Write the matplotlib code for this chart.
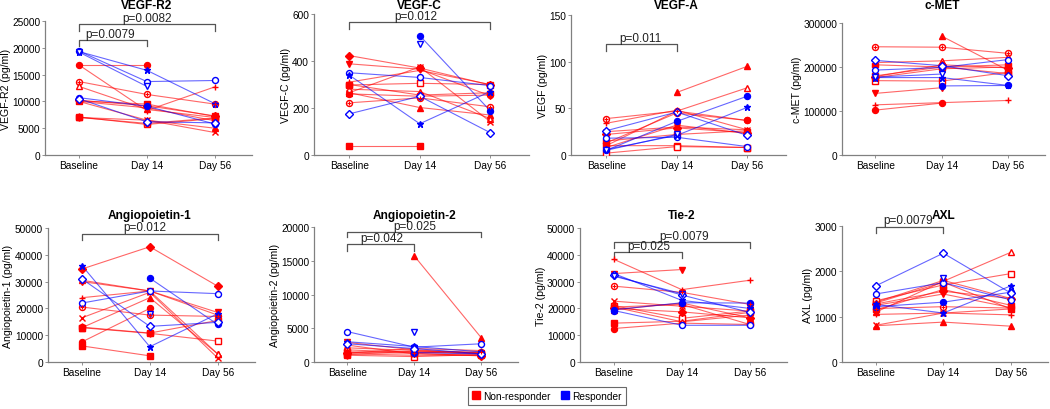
import numpy as np
import matplotlib
matplotlib.use('Agg')
import matplotlib.pyplot as plt
import matplotlib.transforms as mtransforms
from matplotlib.lines import Line2D

plt.rcParams['font.family'] = ['Liberation Sans', 'DejaVu Sans']

nan = np.nan
timepoints = ['Baseline', 'Day 14', 'Day 56']

# patient styles: group (R = responder), marker, filled
groups = ['N'] * 11 + ['R'] * 5
markers = ['o', 'o', 's', 's', '^', '^', 'v', '+', 'x', 'D', 'h',
           'o', 'o', '*', 'D', 'v']
filled = [False, True, True, False, True, False, True, True, True, True, True,
          False, True, True, False, False]

# values per panel, one row per patient: Baseline, Day 14, Day 56
vegfr2 = [[13700, 11300, 9500], [16800, 16800, nan], [10100, 9500, 7200],
          [7100, 5700, 6800], [7000, 6500, 5000], [12800, 8500, 7000],
          [10000, 8800, 6400], [16800, 8300, 12700], [10000, 6500, 4200],
          [10200, 9200, 7300], [7000, 5900, 6900], [19400, 13700, 13900],
          [10700, 9100, 5800], [19300, 15800, 9600], [10500, 6200, 6000],
          [19200, 12800, nan]]
vegfc = [[222, 243, 205], [260, 250, 255], [40, 40, nan], [298, 305, 300],
         [265, 202, 170], [280, 270, 155], [388, 365, 252], [310, 360, 300],
         [265, 375, 142], [423, 370, 298], [300, 255, 265], [350, 330, 295],
         [nan, 508, 188], [340, 133, 270], [175, 250, 95], [nan, 472, nan]]
vegfa = [[39, 47, 37], [13, 45, 37], [10, 10, 8], [2, 9, 8], [nan, 67, 95],
         [10, 47, 72], [8, 32, 23], [34, 48, 27], [25, 30, 27], [22, 29, 24],
         [15, 22, 26], [18, 19, 9], [5, 36, 63], [6, 21, 51], [26, 46, 21],
         [5, 22, nan]]
cmet = [[246000, 245000, 231000], [102000, 118000, nan],
        [180000, 200000, 185000], [169000, 168000, 188000],
        [nan, 270000, 192000], [210000, 214000, 222000],
        [140000, 153000, nan], [114000, 119000, 124000],
        [176000, 196000, 200000], [178000, 205000, 198000],
        [205000, 200000, 205000], [193000, 199000, 217000],
        [nan, 157000, 158000], [176000, 176000, 158000],
        [215000, 203000, 180000], [177000, 184000, nan]]
ang1 = [[20500, 17500, 17000], [7500, 20000, nan], [6000, 2300, nan],
        [12800, 10700, 7800], [12800, 24000, 3000], [30500, 26500, 3000],
        [30000, 26500, 18500], [24000, 26500, 17500], [16500, 26000, 1500],
        [34700, 43000, 28300], [13000, 10800, 15500], [22000, 26500, 25500],
        [nan, 31300, 14000], [36000, 5700, 18000], [31000, 13300, 14800],
        [nan, 17800, nan]]
ang2 = [[1800, 1400, 1500], [1200, 1000, 1000], [1500, 1500, 1200],
        [1000, 800, 1100], [nan, 15700, 3600], [2100, 1700, 1300],
        [2900, 1800, 1300], [1300, 2000, 1700], [2500, 1200, 1000],
        [1400, 1300, 900], [1100, 1600, 1400], [4500, 2200, 2700],
        [nan, 1400, 1200], [3000, 2300, 1500], [2700, 2000, 1200],
        [nan, 4400, nan]]
tie2 = [[28300, 26000, 21500], [12500, 14500, 14000], [14500, 15200, 18500],
        [21000, 16300, 19000], [19500, 22000, 16500], [20500, 15000, 17500],
        [33000, 34500, nan], [38300, 27000, 30500], [22700, 20800, 19000],
        [20000, 18700, 16500], [20500, 21500, 14000], [19200, 13700, 13700],
        [19500, 22100, 22000], [33000, 23000, 20000], [32300, 25000, 18500],
        [32000, 25500, nan]]
axl = [[1180, 1220, 1190], [1320, 1800, 1400], [1300, 1760, 1170],
       [1350, 1700, 1950], [800, 880, 790], [1100, 1780, 2420],
       [1250, 1500, 1200], [1050, 1080, 1040], [810, 1080, 1170],
       [1280, 1560, 1400], [1150, 1600, 1250], [1500, 1750, 1370],
       [1220, 1320, 1540], [1270, 1080, 1680], [1680, 2400, 1520],
       [nan, 1860, nan]]

titles = ['VEGF-R2', 'VEGF-C', 'VEGF-A', 'c-MET',
          'Angiopoietin-1', 'Angiopoietin-2', 'Tie-2', 'AXL']
ylabels = ['VEGF-R2 (pg/ml)', 'VEGF-C (pg/ml)', 'VEGF (pg/ml)', 'c-MET (pg/ml)',
           'Angiopoietin-1 (pg/ml)', 'Angiopoietin-2 (pg/ml)', 'Tie-2 (pg/ml)',
           'AXL (pg/ml)']
ymax = [25000, 600, 150, 300000, 50000, 20000, 50000, 3000]
ystep = [5000, 200, 50, 100000, 10000, 5000, 10000, 1000]
panel_data = [vegfr2, vegfc, vegfa, cmet, ang1, ang2, tie2, axl]

# significance brackets: (x0, x1, y, leg, label, text x)
brackets = [
    [(1, 2, 21400, 1100, 'p=0.0079', 1.46),
     (1, 3, 24400, 1300, 'p=0.0082', 2.0)],
    [(1, 3, 565, 30, 'p=0.012', 1.94)],
    [(1, 2, 118.6, 7, 'p=0.011', 1.49)],
    [],
    [(1, 3, 47900, 2500, 'p=0.012', 1.93)],
    [(1, 2, 17500, 1000, 'p=0.042', 1.52),
     (1, 3, 19300, 800, 'p=0.025', 2.0)],
    [(1, 2, 41000, 2200, 'p=0.025', 1.51),
     (1, 3, 44800, 2300, 'p=0.0079', 2.04)],
    [(1, 2, 2985, 150, 'p=0.0079', 1.48)],
]

# axes boxes in pixels: left, top, right, bottom
boxes = [(45, 22, 252, 156), (314, 15, 529, 156), (571, 16, 786, 156),
         (842, 24, 1045, 156), (48, 229, 255, 363), (314, 228, 518, 363),
         (580, 229, 787, 363), (842, 227, 1048, 363)]

W, H = 1050, 410
fig = plt.figure(figsize=(W / 100, H / 100), dpi=100)
axcol = '#808080'

for i in range(8):
    l, t, r, b = boxes[i]
    ax = fig.add_axes([l / W, 1 - b / H, (r - l) / W, (b - t) / H])
    x = np.arange(1, 4)
    for p, row in enumerate(panel_data[i]):
        col = 'blue' if groups[p] == 'R' else 'red'
        ax.plot(x, row, '-', color=col, lw=0.8, alpha=0.6, zorder=2)
        ms = 4.3 if markers[p] not in ('*', 'h') else 5
        ax.plot(x, row, linestyle='none', marker=markers[p], ms=ms,
                color=col, mfc=col if filled[p] else 'white',
                mew=1.0, zorder=3)
        if p == 0:
            ax.plot(x, row, linestyle='none', marker='+', ms=3.5,
                    color=col, mew=0.8, zorder=4)
    ax.set_xlim(0.5, 3.55)
    ax.set_ylim(0, ymax[i])
    ax.set_xticks(x)
    ax.set_xticklabels(timepoints)
    yt = np.arange(0, ymax[i] + 1, ystep[i])
    ax.set_yticks(yt)
    ax.set_yticklabels([str(int(v)) for v in yt])
    ax.tick_params(labelsize=7.3, length=2, width=0.6, color=axcol, pad=1.5)
    for s in ['top', 'right']:
        ax.spines[s].set_visible(False)
    for s in ['left', 'bottom']:
        ax.spines[s].set_color(axcol)
        ax.spines[s].set_linewidth(0.9)
    ax.set_ylabel(ylabels[i], fontsize=7.6, labelpad=1)

    trans = mtransforms.blended_transform_factory(ax.transData, fig.transFigure)
    ty = 1 - 6 / H if i < 4 else 1 - 216 / H
    ax.text(2, ty, titles[i], transform=trans, ha='center', va='center',
            fontsize=8.6, fontweight='bold')

    # text sits just on the bracket line
    lift = mtransforms.offset_copy(ax.transData, fig=fig, y=2.3, units='points')
    for x0, x1, y, leg, lab, tx in brackets[i]:
        ax.plot([x0, x0, x1, x1], [y - leg, y, y, y - leg], color='#555555',
                lw=0.9, clip_on=False)
        ax.text(tx, y, lab, transform=lift, ha='center', va='baseline',
                fontsize=8.5, color='#222222', clip_on=False)

handles = [Line2D([], [], ls='none', marker='s', ms=6, color='red'),
           Line2D([], [], ls='none', marker='s', ms=6, color='blue')]
leg = fig.legend(handles, ['Non-responder', 'Responder'], ncol=2,
                 loc='center', bbox_to_anchor=(547 / W, 1 - 397 / H),
                 fontsize=7.3, frameon=True, fancybox=False,
                 handlelength=0.8, handletextpad=0.3, columnspacing=1.0,
                 borderpad=0.4)
leg.get_frame().set_edgecolor('#444444')
leg.get_frame().set_linewidth(0.8)

fig.savefig('out.png', dpi=100)
